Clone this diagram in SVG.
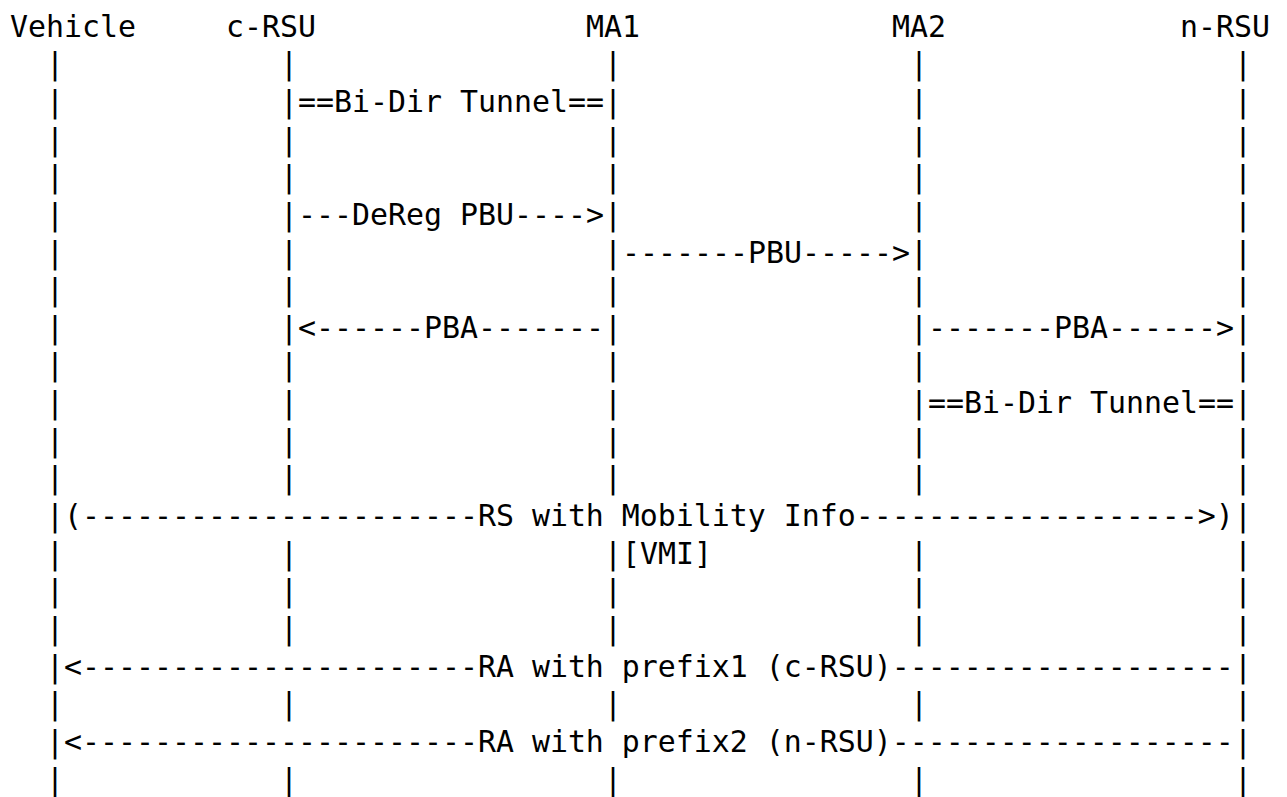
<svg xmlns="http://www.w3.org/2000/svg" width="1287" height="797" viewBox="0 0 1287 797">
<style>
.t{font-family:"DejaVu Sans Mono","Liberation Mono",monospace;font-size:29.9px;fill:#000;white-space:pre}
</style>
<rect x="0" y="0" width="1287" height="797" fill="#fff"/>
<g id="node-vehicle">
<text class="t" x="10" y="36.5">Vehicle</text>
<text class="t"><tspan x="46" y="74.2">|</tspan><tspan x="46" y="111.8">|</tspan><tspan x="46" y="149.5">|</tspan><tspan x="46" y="187.1">|</tspan><tspan x="46" y="224.8">|</tspan><tspan x="46" y="262.5">|</tspan><tspan x="46" y="300.1">|</tspan><tspan x="46" y="337.8">|</tspan><tspan x="46" y="375.4">|</tspan><tspan x="46" y="413.1">|</tspan><tspan x="46" y="450.8">|</tspan><tspan x="46" y="488.4">|</tspan><tspan x="46" y="526.1">|</tspan><tspan x="46" y="563.7">|</tspan><tspan x="46" y="601.4">|</tspan><tspan x="46" y="639.1">|</tspan><tspan x="46" y="676.7">|</tspan><tspan x="46" y="714.4">|</tspan><tspan x="46" y="752">|</tspan><tspan x="46" y="789.7">|</tspan></text>
</g>
<g id="node-c-rsu">
<text class="t" x="226" y="36.5">c-RSU</text>
<text class="t"><tspan x="280" y="74.2">|</tspan><tspan x="280" y="111.8">|</tspan><tspan x="280" y="149.5">|</tspan><tspan x="280" y="187.1">|</tspan><tspan x="280" y="224.8">|</tspan><tspan x="280" y="262.5">|</tspan><tspan x="280" y="300.1">|</tspan><tspan x="280" y="337.8">|</tspan><tspan x="280" y="375.4">|</tspan><tspan x="280" y="413.1">|</tspan><tspan x="280" y="450.8">|</tspan><tspan x="280" y="488.4">|</tspan><tspan x="280" y="563.7">|</tspan><tspan x="280" y="601.4">|</tspan><tspan x="280" y="639.1">|</tspan><tspan x="280" y="714.4">|</tspan><tspan x="280" y="789.7">|</tspan></text>
</g>
<g id="node-ma1">
<text class="t" x="586" y="36.5">MA1</text>
<text class="t"><tspan x="604" y="74.2">|</tspan><tspan x="604" y="111.8">|</tspan><tspan x="604" y="149.5">|</tspan><tspan x="604" y="187.1">|</tspan><tspan x="604" y="224.8">|</tspan><tspan x="604" y="262.5">|</tspan><tspan x="604" y="300.1">|</tspan><tspan x="604" y="337.8">|</tspan><tspan x="604" y="375.4">|</tspan><tspan x="604" y="413.1">|</tspan><tspan x="604" y="450.8">|</tspan><tspan x="604" y="488.4">|</tspan><tspan x="604" y="563.7">|</tspan><tspan x="604" y="601.4">|</tspan><tspan x="604" y="639.1">|</tspan><tspan x="604" y="714.4">|</tspan><tspan x="604" y="789.7">|</tspan></text>
</g>
<g id="node-ma2">
<text class="t" x="892" y="36.5">MA2</text>
<text class="t"><tspan x="910" y="74.2">|</tspan><tspan x="910" y="111.8">|</tspan><tspan x="910" y="149.5">|</tspan><tspan x="910" y="187.1">|</tspan><tspan x="910" y="224.8">|</tspan><tspan x="910" y="262.5">|</tspan><tspan x="910" y="300.1">|</tspan><tspan x="910" y="337.8">|</tspan><tspan x="910" y="375.4">|</tspan><tspan x="910" y="413.1">|</tspan><tspan x="910" y="450.8">|</tspan><tspan x="910" y="488.4">|</tspan><tspan x="910" y="563.7">|</tspan><tspan x="910" y="601.4">|</tspan><tspan x="910" y="639.1">|</tspan><tspan x="910" y="714.4">|</tspan><tspan x="910" y="789.7">|</tspan></text>
</g>
<g id="node-n-rsu">
<text class="t" x="1180" y="36.5">n-RSU</text>
<text class="t"><tspan x="1234" y="74.2">|</tspan><tspan x="1234" y="111.8">|</tspan><tspan x="1234" y="149.5">|</tspan><tspan x="1234" y="187.1">|</tspan><tspan x="1234" y="224.8">|</tspan><tspan x="1234" y="262.5">|</tspan><tspan x="1234" y="300.1">|</tspan><tspan x="1234" y="337.8">|</tspan><tspan x="1234" y="375.4">|</tspan><tspan x="1234" y="413.1">|</tspan><tspan x="1234" y="450.8">|</tspan><tspan x="1234" y="488.4">|</tspan><tspan x="1234" y="526.1">|</tspan><tspan x="1234" y="563.7">|</tspan><tspan x="1234" y="601.4">|</tspan><tspan x="1234" y="639.1">|</tspan><tspan x="1234" y="676.7">|</tspan><tspan x="1234" y="714.4">|</tspan><tspan x="1234" y="752">|</tspan><tspan x="1234" y="789.7">|</tspan></text>
</g>
<g id="connectors">
<text class="t" x="298" y="111.8">==Bi-Dir Tunnel==</text>
<text class="t" x="298" y="224.8">---DeReg PBU----&gt;</text>
<text class="t" x="622" y="262.5">-------PBU-----&gt;</text>
<text class="t" x="298" y="337.8">&lt;------PBA-------</text>
<text class="t" x="928" y="337.8">-------PBA------&gt;</text>
<text class="t" x="928" y="413.1">==Bi-Dir Tunnel==</text>
<text class="t" x="64" y="526.1">(----------------------RS with Mobility Info-------------------&gt;)</text>
<text class="t" x="622" y="563.7">[VMI]</text>
<text class="t" x="64" y="676.7">&lt;----------------------RA with prefix1 (c-RSU)-------------------</text>
<text class="t" x="64" y="752">&lt;----------------------RA with prefix2 (n-RSU)-------------------</text>
</g>
</svg>
